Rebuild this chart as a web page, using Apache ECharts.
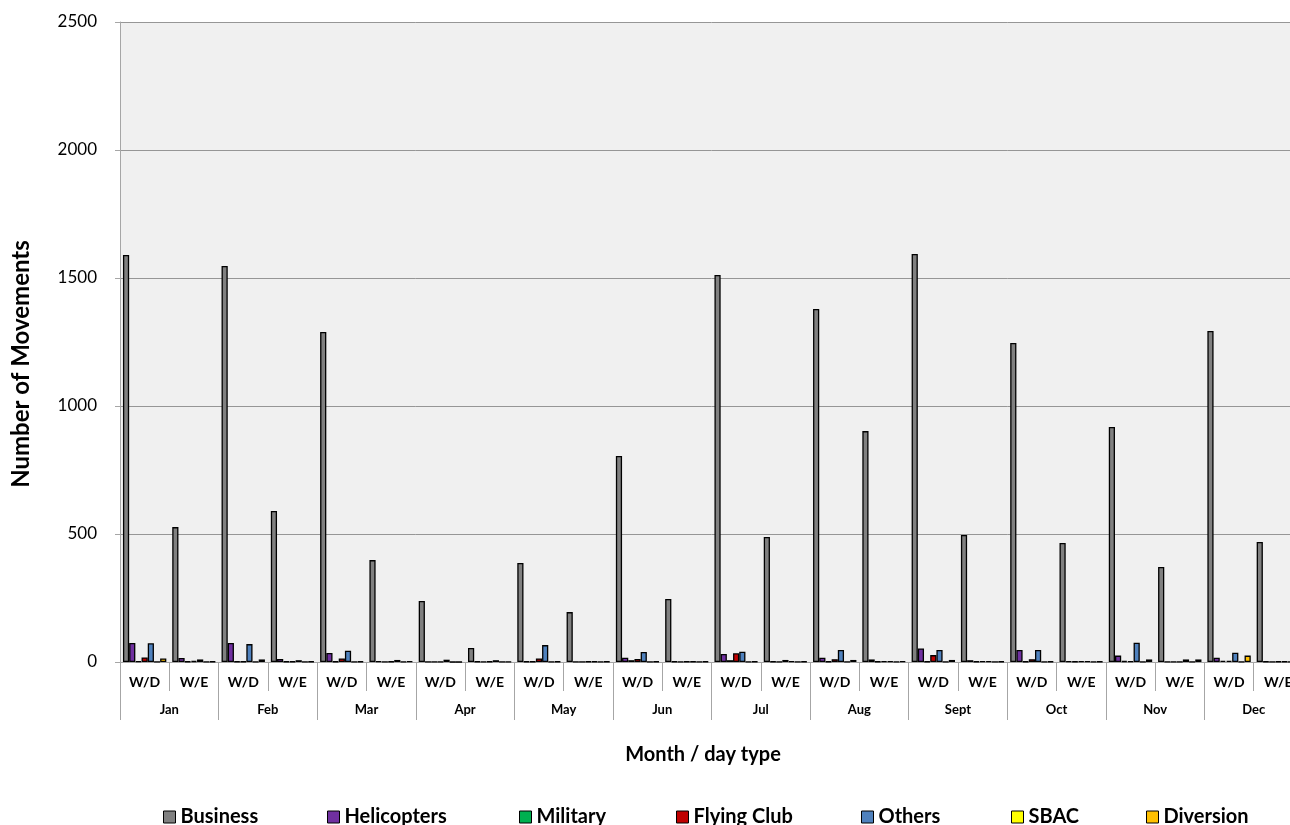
<!DOCTYPE html>
<html>
<head>
<meta charset="utf-8">
<script src="https://cdn.jsdelivr.net/npm/echarts@6/dist/echarts.min.js"></script>
<style>
  html, body { margin: 0; padding: 0; background: #ffffff; overflow: hidden; }
  /* The plot runs slightly past the right edge of the window, as the last category is cut off */
  #chart { width: 1303px; height: 825px; }
</style>
</head>
<body>
<div id="chart"></div>
<script>
// Monthly movements by aircraft category, split by weekday / weekend
const months = ['Jan', 'Feb', 'Mar', 'Apr', 'May', 'Jun', 'Jul', 'Aug', 'Sept', 'Oct', 'Nov', 'Dec'];
const dayTypes = ['W/D', 'W/E'];
const yTicks = [0, 500, 1000, 1500, 2000, 2500];

// One value per month and day type: Jan W/D, Jan W/E, Feb W/D, ...
const business    = [1590, 527, 1547, 590, 1289, 398, 238, 55, 387, 195, 805, 246, 1512, 488, 1379, 902, 1594, 496, 1246, 465, 918, 371, 1293, 469];
const helicopters = [74, 16, 74, 12, 35, 3, 1, 2, 2, 1, 17, 2, 31, 2, 17, 10, 53, 7, 47, 3, 25, 1, 17, 2];
const military    = [3, 2, 2, 2, 2, 1, 1, 1, 2, 1, 7, 1, 7, 1, 2, 2, 2, 2, 2, 2, 4, 1, 5, 1];
const flyingClub  = [18, 4, 2, 2, 14, 2, 1, 2, 14, 2, 12, 2, 34, 8, 11, 3, 27, 3, 11, 3, 3, 1, 5, 2];
const others      = [73, 10, 70, 7, 44, 8, 9, 7, 66, 2, 39, 2, 40, 3, 47, 3, 47, 3, 47, 3, 75, 10, 36, 2];
const sbac        = [1, 1, 1, 1, 1, 1, 0, 1, 1, 1, 1, 1, 1, 1, 1, 1, 1, 1, 1, 1, 1, 1, 1, 1];
const diversion   = [14, 2, 10, 2, 2, 3, 0, 1, 2, 2, 2, 2, 2, 2, 8, 3, 8, 2, 2, 2, 10, 10, 25, 2];

const seriesDefs = [
  { name: 'Business',    data: business,    color: '#808080' },
  { name: 'Helicopters', data: helicopters, color: '#7030a0' },
  { name: 'Military',    data: military,    color: '#00b050' },
  { name: 'Flying Club', data: flyingClub,  color: '#c00000' },
  { name: 'Others',      data: others,      color: '#4f81bd' },
  { name: 'SBAC',        data: sbac,        color: '#ffff00' },
  { name: 'Diversion',   data: diversion,   color: '#ffc000' }
];
const legendLeft = [163, 327, 519, 676, 861, 1011, 1146];

const dayCategories = [];
months.forEach(() => dayTypes.forEach(d => dayCategories.push(d)));

const FONT = 'Lato, "Liberation Sans", sans-serif';
const gridRect = { left: 120, right: 0, top: 22, bottom: 163 };

const chart = echarts.init(document.getElementById('chart'), null, { renderer: 'canvas' });

chart.setOption({
  animation: false,
  backgroundColor: '#ffffff',
  textStyle: { fontFamily: FONT },
  grid: [
    Object.assign({ show: true, backgroundColor: '#f0f0f0', borderWidth: 0 }, gridRect),
    Object.assign({ show: false }, gridRect)
  ],
  xAxis: [
    {
      type: 'category',
      gridIndex: 0,
      data: dayCategories,
      position: 'bottom',
      axisLine: { show: true, lineStyle: { color: '#a6a6a6', width: 1 } },
      axisTick: { show: true, interval: 0, length: 29, lineStyle: { color: '#a6a6a6' } },
      axisLabel: { interval: 0, margin: 13, fontSize: 14, fontWeight: 'bold', color: '#000', fontFamily: FONT }
    },
    {
      type: 'category',
      gridIndex: 1,
      data: months,
      position: 'bottom',
      axisLine: { show: false },
      axisTick: { show: true, interval: 0, length: 58, lineStyle: { color: '#a6a6a6' } },
      axisLabel: { interval: 0, margin: 41, fontSize: 13, fontWeight: 'bold', color: '#000', fontFamily: FONT }
    }
  ],
  yAxis: [
    {
      type: 'value',
      gridIndex: 0,
      min: yTicks[0],
      max: yTicks[yTicks.length - 1],
      interval: 500,
      axisLine: { show: true, lineStyle: { color: '#a6a6a6' } },
      axisTick: { show: true, length: 5, lineStyle: { color: '#a6a6a6' } },
      axisLabel: { margin: 23, fontSize: 17, color: '#000', fontFamily: FONT, formatter: v => String(v) },
      splitLine: { show: true, lineStyle: { color: '#969696', width: 1 } }
    },
    {
      type: 'value',
      gridIndex: 1,
      min: 0, max: 2500,
      show: false
    }
  ],
  legend: seriesDefs.map((s, i) => ({
    data: [s.name],
    left: legendLeft[i],
    top: 807,
    padding: 0,
    icon: 'rect',
    itemWidth: 12,
    itemHeight: 12,
    itemGap: 0,
    textStyle: { fontSize: 20, fontWeight: 'bold', color: '#000', fontFamily: FONT },
    itemStyle: { borderColor: '#000', borderWidth: 1 }
  })),
  graphic: [
    {
      type: 'text',
      x: 21, y: 364,
      rotation: Math.PI / 2,
      style: { text: 'Number of Movements', fontSize: 24, fontWeight: 'bold', fill: '#000', fontFamily: FONT, align: 'center', verticalAlign: 'middle' }
    },
    {
      type: 'text',
      x: 703, y: 755,
      style: { text: 'Month / day type', fontSize: 20, fontWeight: 'bold', fill: '#000', fontFamily: FONT, align: 'center', verticalAlign: 'middle' }
    }
  ],
  series: seriesDefs.map(s => ({
    name: s.name,
    type: 'bar',
    xAxisIndex: 0,
    yAxisIndex: 0,
    data: s.data,
    barGap: '0%',
    barCategoryGap: '12%',
    itemStyle: { color: s.color, borderColor: '#000', borderWidth: 1.3 }
  }))
});
</script>
</body>
</html>
